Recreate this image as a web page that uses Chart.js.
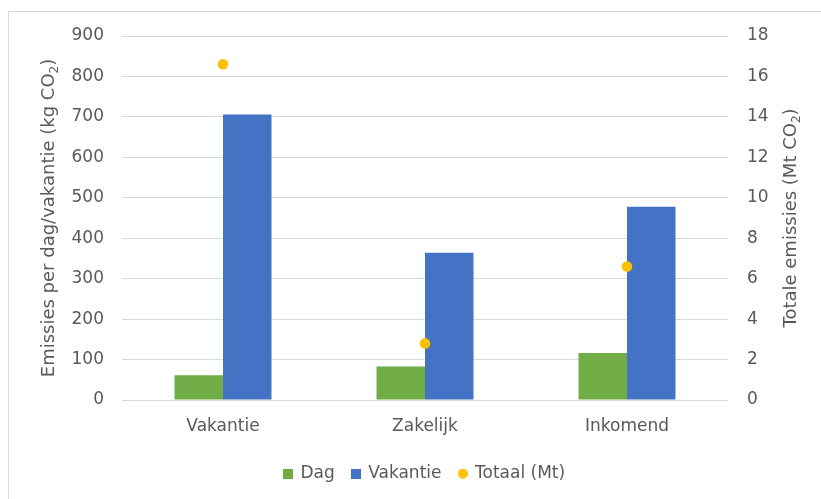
<!DOCTYPE html>
<html>
<head>
<meta charset="utf-8">
<script src="https://cdn.jsdelivr.net/npm/chart.js@4/dist/chart.umd.min.js"></script>
<style>
  html, body { margin: 0; padding: 0; background: #ffffff; }
  #wrap { position: relative; width: 821px; height: 499px; }
</style>
</head>
<body>
<div id="wrap"><canvas id="c" width="821" height="499"></canvas></div>
<script>
// Trip categories and the three series
const categories = ['Vakantie', 'Zakelijk', 'Inkomend'];
const seriesNames = ['Dag', 'Vakantie', 'Totaal (Mt)'];
const dagValues = [61, 83, 116];          // kg CO2 per dag
const vakantieValues = [706, 364, 478];   // kg CO2 per vakantie
const totaalValues = [16.6, 2.8, 6.6];    // Mt CO2 totaal

// Axis titles: text before the subscript, the subscript, text after it
const leftAxisTitle = ['Emissies per dag/vakantie (kg CO', '2', ')'];
const rightAxisTitle = ['Totale emissies (Mt CO', '2', ')'];

const FONT = "'DejaVu Sans', sans-serif";
const TEXT = '#595959';
const GRID = '#d9d9d9';
const GREEN = '#70AD47';
const BLUE = '#4472C4';
const GOLD = '#FFC000';

// Small legend swatches
function swatch(color, round) {
  const s = document.createElement('canvas');
  s.width = 10; s.height = 10;
  const g = s.getContext('2d');
  g.fillStyle = color;
  if (round) { g.beginPath(); g.arc(5, 5, 5, 0, Math.PI * 2); g.fill(); }
  else g.fillRect(0, 0, 10, 10);
  return s;
}
const swatches = [swatch(GREEN, false), swatch(BLUE, false), swatch(GOLD, true)];

// Rotated axis title with a subscript, reading bottom to top
function drawVertical(ctx, parts, x, y) {
  const big = '18px ' + FONT, small = '12px ' + FONT;
  ctx.save();
  ctx.translate(x, y);
  ctx.rotate(-Math.PI / 2);
  ctx.fillStyle = TEXT;
  ctx.textBaseline = 'middle';
  ctx.textAlign = 'left';
  ctx.font = big;
  const w0 = ctx.measureText(parts[0]).width;
  const w2 = ctx.measureText(parts[2]).width;
  ctx.font = small;
  const w1 = ctx.measureText(parts[1]).width;
  let cx = -(w0 + w1 + w2) / 2;
  ctx.font = big;  ctx.fillText(parts[0], cx, 0); cx += w0;
  ctx.font = small; ctx.fillText(parts[1], cx, 6); cx += w1;
  ctx.font = big;  ctx.fillText(parts[2], cx, 0);
  ctx.restore();
}

const frameAndTitles = {
  id: 'frameAndTitles',
  beforeDraw(chart) {
    const ctx = chart.ctx;
    ctx.save();
    ctx.strokeStyle = GRID;
    ctx.lineWidth = 1;
    ctx.strokeRect(8.5, 11.5, chart.width + 20, chart.height + 20);
    ctx.restore();
  },
  afterDraw(chart) {
    const a = chart.chartArea;
    const cy = (a.top + a.bottom) / 2;
    drawVertical(chart.ctx, leftAxisTitle, chart.scales.y.left + 49, cy);
    drawVertical(chart.ctx, rightAxisTitle, chart.scales.y1.right - 30, cy);
  }
};

const tickFont = { family: FONT, size: 17 };

new Chart(document.getElementById('c'), {
  type: 'bar',
  data: {
    labels: categories,
    datasets: [
      { label: seriesNames[0], data: dagValues, backgroundColor: GREEN, yAxisID: 'y',
        order: 1, categoryPercentage: 0.48, barPercentage: 1 },
      { label: seriesNames[1], data: vakantieValues, backgroundColor: BLUE, yAxisID: 'y',
        order: 1, categoryPercentage: 0.48, barPercentage: 1 },
      { type: 'line', label: seriesNames[2], data: totaalValues, yAxisID: 'y1', order: 0,
        showLine: false, pointRadius: 5.3, pointHoverRadius: 5.3, pointBorderWidth: 0,
        pointBackgroundColor: GOLD, backgroundColor: GOLD, borderColor: GOLD }
    ]
  },
  options: {
    responsive: false,
    animation: false,
    devicePixelRatio: 1,
    layout: { padding: { top: 36, left: 0, right: 0, bottom: 7 } },
    scales: {
      x: {
        grid: { display: false, drawTicks: false },
        border: { display: false },
        ticks: { color: TEXT, font: tickFont, padding: 16 },
        afterFit(s) { s.height = 47; }
      },
      y: {
        position: 'left',
        min: 0, max: 900,
        ticks: { stepSize: 100, color: TEXT, font: tickFont, padding: 18 },
        grid: { color: GRID, lineWidth: 1, drawTicks: false },
        border: { display: false },
        afterFit(s) { s.width = 122; }
      },
      y1: {
        position: 'right',
        min: 0, max: 18,
        ticks: { stepSize: 2, color: TEXT, font: tickFont, padding: 19 },
        grid: { display: false, drawTicks: false },
        border: { display: false },
        afterFit(s) { s.width = 93; }
      }
    },
    plugins: {
      tooltip: { enabled: false },
      legend: {
        position: 'bottom',
        fullSize: false,
        maxHeight: 52,
        labels: {
          usePointStyle: true,
          boxWidth: 7,
          boxHeight: 10,
          padding: 18,
          color: TEXT,
          font: tickFont,
          sort: (a, b) => a.datasetIndex - b.datasetIndex,
          generateLabels(chart) {
            const items = Chart.defaults.plugins.legend.labels.generateLabels(chart);
            items.forEach(it => { it.pointStyle = swatches[it.datasetIndex]; });
            return items;
          }
        }
      }
    }
  },
  plugins: [frameAndTitles]
});
</script>
</body>
</html>
